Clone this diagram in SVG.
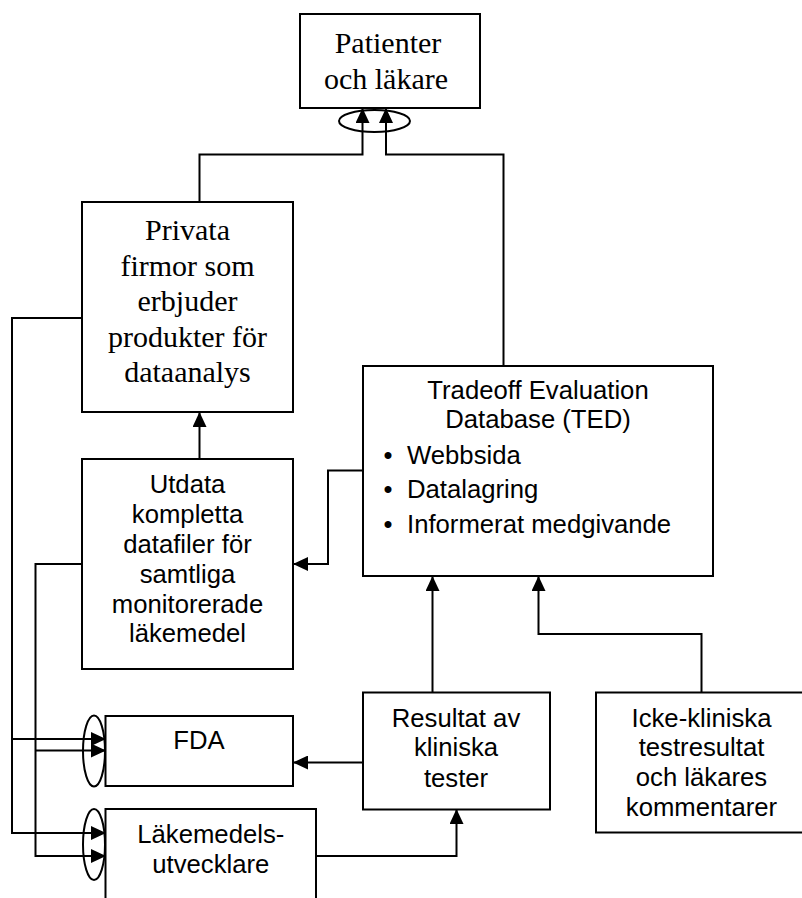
<svg xmlns="http://www.w3.org/2000/svg" width="802" height="898" viewBox="0 0 802 898">
<style>
.box{fill:#fff;stroke:#000;stroke-width:2}
.ell{fill:none;stroke:#000;stroke-width:2}
.ln{fill:none;stroke:#000;stroke-width:2}
.ar{fill:none;stroke:#000;stroke-width:2;marker-end:url(#ah)}
.serif{font-family:"Liberation Serif","Times New Roman",serif;font-size:30px;fill:#000;text-anchor:middle}
.sans{font-family:"Liberation Sans",Arial,sans-serif;font-size:25.7px;fill:#000;text-anchor:middle}
.sansl{font-family:"Liberation Sans",Arial,sans-serif;font-size:25.7px;fill:#000}
</style>
<defs>
<marker id="ah" markerUnits="userSpaceOnUse" markerWidth="15" markerHeight="14" refX="14" refY="7" orient="auto">
<path d="M0,0 L15,7 L0,14 z" fill="#000"/>
</marker>
</defs>
<rect width="802" height="898" fill="#fff"/>

<g id="connectors">
<path class="ar" d="M199.5,202 V154.5 H362.5 V109"/>
<path class="ar" d="M503.5,366 V154.5 H386 V109"/>
<path class="ar" d="M199.5,459 V413"/>
<path class="ar" d="M363,470.5 H328 V564 H294"/>
<path class="ar" d="M83,318 H12 V833 H105"/>
<path class="ar" d="M12,739 H105"/>
<path class="ar" d="M83,564 H35.5 V856 H105"/>
<path class="ar" d="M35.5,750.5 H105"/>
<path class="ar" d="M363,762.5 H294"/>
<path class="ar" d="M316,856 H456.5 V810"/>
<path class="ar" d="M432.5,692.5 V577"/>
<path class="ar" d="M701.5,692.5 V634 H538.5 V577"/>
</g>

<g id="patienter">
<rect class="box" x="300" y="14" width="180" height="94"/>
<text class="serif" x="388" y="53">Patienter</text>
<text class="serif" x="386" y="89">och läkare</text>
<ellipse class="ell" cx="374.5" cy="121" rx="35.5" ry="11"/>
</g>

<g id="privata">
<rect class="box" x="82" y="202" width="211" height="210"/>
<text class="serif" x="187.5" y="240">Privata</text>
<text class="serif" x="187.5" y="276">firmor som</text>
<text class="serif" x="187.5" y="311">erbjuder</text>
<text class="serif" x="187.5" y="347">produkter för</text>
<text class="serif" x="187.5" y="382">dataanalys</text>
</g>

<g id="ted">
<rect class="box" x="363" y="366" width="350" height="210"/>
<text class="sans" x="538" y="399">Tradeoff Evaluation</text>
<text class="sans" x="538" y="428">Database (TED)</text>
<text class="sans" x="388" y="464">•</text>
<text class="sansl" x="407" y="464">Webbsida</text>
<text class="sans" x="388" y="498">•</text>
<text class="sansl" x="407" y="498">Datalagring</text>
<text class="sans" x="388" y="532.5">•</text>
<text class="sansl" x="407" y="532.5">Informerat medgivande</text>
</g>

<g id="utdata">
<rect class="box" x="82" y="459" width="211" height="210"/>
<text class="sans" x="187.5" y="493">Utdata</text>
<text class="sans" x="187.5" y="523">kompletta</text>
<text class="sans" x="187.5" y="553">datafiler för</text>
<text class="sans" x="187.5" y="583">samtliga</text>
<text class="sans" x="187.5" y="613">monitorerade</text>
<text class="sans" x="187.5" y="642">läkemedel</text>
</g>

<g id="fda">
<rect class="box" x="105.5" y="716" width="187.5" height="70"/>
<text class="sans" x="199" y="749">FDA</text>
<ellipse class="ell" cx="94" cy="751" rx="11" ry="35.5"/>
</g>

<g id="lakemedelsutvecklare">
<rect class="box" x="105.5" y="809" width="210.5" height="100"/>
<text class="sans" x="210.8" y="843">Läkemedels-</text>
<text class="sans" x="210.8" y="873">utvecklare</text>
<ellipse class="ell" cx="94" cy="844.5" rx="11" ry="35.5"/>
</g>

<g id="resultat">
<rect class="box" x="363" y="692.5" width="187" height="117"/>
<text class="sans" x="456" y="727">Resultat av</text>
<text class="sans" x="456" y="756">kliniska</text>
<text class="sans" x="456" y="787">tester</text>
</g>

<g id="icke">
<rect class="box" x="596" y="692.5" width="215" height="140"/>
<text class="sans" x="701.5" y="727">Icke-kliniska</text>
<text class="sans" x="701.5" y="756">testresultat</text>
<text class="sans" x="701.5" y="786">och läkares</text>
<text class="sans" x="701.5" y="816">kommentarer</text>
</g>
</svg>
